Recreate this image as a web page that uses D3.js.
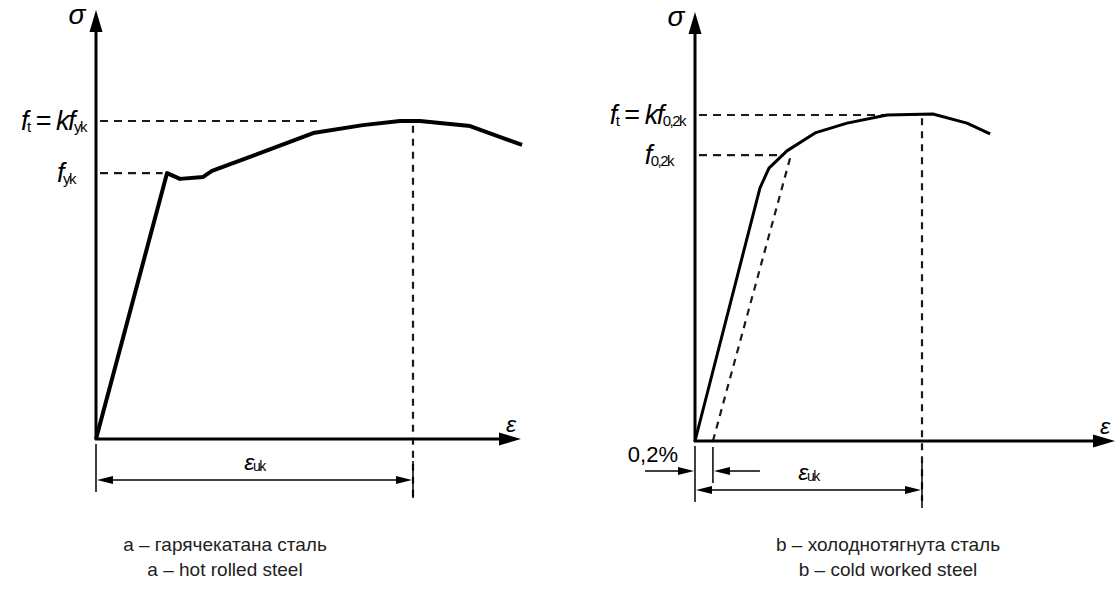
<!DOCTYPE html>
<html>
<head>
<meta charset="utf-8">
<script src="https://cdn.jsdelivr.net/npm/d3@7"></script>
<style>
  body { margin: 0; background: #fff; }
  svg { display: block; }
  text { font-family: "Liberation Sans", Arial, sans-serif; fill: #000; }
  .it { font-style: italic; }
  .caption { font-size: 19px; fill: #222; }
</style>
</head>
<body>
<div id="chart"></div>
<script>
// strain is in units of eps_uk, stress in units of f_t (normalised)

// a - hot rolled steel
var hotStrain = [0, 0.224, 0.265, 0.338, 0.366, 0.517, 0.685, 0.842, 0.959, 1.022, 1.18, 1.344];
var hotStress = [0, 0.836, 0.818, 0.824, 0.843, 0.899, 0.962, 0.987, 1.0, 1.0, 0.984, 0.925];
var hotFyk = 0.836;

// b - cold worked steel
var coldStrain = [0, 0.286, 0.326, 0.405, 0.529, 0.67, 0.846, 1.048, 1.198, 1.3];
var coldStress = [0, 0.776, 0.837, 0.89, 0.945, 0.975, 1.0, 1.003, 0.975, 0.942];
var coldF02 = 0.877;
var offsetStrain = [0.079, 0.419];   // 0,2% offset line
var offsetStress = [0, 0.868];

var captionsA = ["a \u2013 гарячекатана сталь", "a \u2013 hot rolled steel"];
var captionsB = ["b \u2013 холоднотягнута сталь", "b \u2013 cold worked steel"];

var W = 1116, H = 590;

var svg = d3.select("#chart")
    .append("svg")
    .attr("width", W)
    .attr("height", H);

// filled arrow head with tip at (tx,ty), pointing in direction (dx,dy)
function arrowHead(g, tx, ty, dx, dy, len, wid) {
  var bx = tx - dx * len, by = ty - dy * len;
  var px = -dy * wid / 2, py = dx * wid / 2;
  g.append("path")
      .attr("d", "M" + tx + "," + ty + "L" + (bx + px) + "," + (by + py) +
                 "L" + (bx - px) + "," + (by - py) + "Z")
      .attr("fill", "#000").attr("stroke", "none");
}

function panel(o) {
  var x = d3.scaleLinear().domain([0, 1]).range([o.x0, o.xu]);
  var y = d3.scaleLinear().domain([0, 1]).range([o.y0, o.yt]);
  var g = svg.append("g");

  var line = d3.line()
      .x(function(d) { return x(d[0]); })
      .y(function(d) { return y(d[1]); });

  // dashed guides
  var dash = g.append("g").attr("stroke", "#1a1a1a").attr("stroke-width", 2.2)
      .attr("stroke-dasharray", "8,6").attr("fill", "none");
  dash.append("line").attr("x1", x(0) + 4).attr("x2", x(o.ftEnd))
      .attr("y1", y(1)).attr("y2", y(1));
  dash.append("line").attr("x1", x(0) + 4).attr("x2", x(o.fyEnd))
      .attr("y1", y(o.fy)).attr("y2", y(o.fy));
  dash.append("line").attr("x1", x(1)).attr("x2", x(1))
      .attr("y1", y(o.vTop)).attr("y2", o.y0 + 60)
      .attr("stroke-dasharray", "7,6");
  if (o.offset) {
    dash.append("path")
        .attr("d", line(d3.zip(o.offset[0], o.offset[1])))
        .attr("stroke-dasharray", "7,6");
  }

  // axes
  g.append("line").attr("x1", x(0)).attr("x2", x(0))
      .attr("y1", o.y0 + 1).attr("y2", o.axTop + 15)
      .attr("stroke", "#000").attr("stroke-width", 3);
  arrowHead(g, x(0), o.axTop, 0, -1, 22, 13);
  g.append("line").attr("x1", x(0) - 1).attr("x2", o.axRight - 15)
      .attr("y1", o.y0).attr("y2", o.y0)
      .attr("stroke", "#000").attr("stroke-width", 3);
  arrowHead(g, o.axRight, o.y0, 1, 0, 22, 13);

  // curve
  g.append("path")
      .attr("d", line(d3.zip(o.strain, o.stress)))
      .attr("fill", "none").attr("stroke", "#000")
      .attr("stroke-width", o.curveW).attr("stroke-linejoin", "round");

  // axis letters
  g.append("text").attr("class", "it").attr("x", x(0) - 19).attr("y", o.axTop + 14)
      .attr("text-anchor", "middle").style("font-size", "28px").text("\u03c3");
  g.append("text").attr("class", "it").attr("x", o.axRight - 10).attr("y", o.y0 - 7)
      .attr("text-anchor", "middle").style("font-size", "23px").text("\u03b5");

  // stress labels
  var ft = g.append("text").attr("x", x(0) - 10).attr("y", y(1) + 9)
      .attr("text-anchor", "end").style("font-size", "27px").style("letter-spacing", "-1.5px");
  ft.append("tspan").attr("class", "it").text("f");
  ft.append("tspan").attr("dy", 2).style("font-size", "15px").text("t");
  ft.append("tspan").attr("dy", -2).text(" = ");
  ft.append("tspan").attr("class", "it").text("kf");
  ft.append("tspan").attr("dy", 2).style("font-size", "15px").text(o.sub);

  var fy = g.append("text").attr("x", x(0) - o.fyPad).attr("y", y(o.fy) + 9)
      .attr("text-anchor", "end").style("font-size", "27px").style("letter-spacing", "-1.5px");
  fy.append("tspan").attr("class", "it").text("f");
  fy.append("tspan").attr("dy", 2).style("font-size", "15px").text(o.sub);

  // dimension eps_uk
  var dim = g.append("g").attr("stroke", "#000").attr("stroke-width", 1.5);
  dim.append("line").attr("x1", x(0)).attr("x2", x(0))
      .attr("y1", o.y0 + 5).attr("y2", o.dimY + 12);
  dim.append("line").attr("x1", x(1)).attr("x2", x(1))
      .attr("y1", o.y0 + 22).attr("y2", o.dimY + 18);
  dim.append("line").attr("x1", x(0) + 10).attr("x2", x(1) - 10)
      .attr("y1", o.dimY).attr("y2", o.dimY);
  arrowHead(g, x(0) + 1, o.dimY, -1, 0, 16, 8);
  arrowHead(g, x(1) - 1, o.dimY, 1, 0, 16, 8);

  var eu = g.append("text").attr("x", (x(0) + x(1)) / 2).attr("y", o.dimY - 10)
      .attr("text-anchor", "middle").style("font-size", "23px").style("letter-spacing", "-1.5px");
  eu.append("tspan").attr("class", "it").text("\u03b5");
  eu.append("tspan").attr("dy", 1).style("font-size", "14px").text("uk");

  if (o.offset) {
    var xo = x(o.offset[0][0]);
    dim.append("line").attr("x1", xo).attr("x2", xo)
        .attr("y1", o.y0 + 6).attr("y2", o.y0 + 42);
    dim.append("line").attr("x1", x(0) - 50).attr("x2", x(0) - 10)
        .attr("y1", o.y0 + 30).attr("y2", o.y0 + 30);
    arrowHead(g, x(0) - 1, o.y0 + 30, 1, 0, 16, 8);
    dim.append("line").attr("x1", xo + 47).attr("x2", xo + 10)
        .attr("y1", o.y0 + 30).attr("y2", o.y0 + 30);
    arrowHead(g, xo + 1, o.y0 + 30, -1, 0, 16, 8);
    g.append("text").attr("x", x(0) - 17).attr("y", o.y0 + 21)
        .attr("text-anchor", "end").style("font-size", "22px").text("0,2%");
  }

  // captions
  g.selectAll(".caption")
      .data(o.captions)
      .enter().append("text")
      .attr("class", "caption")
      .attr("x", o.capX)
      .attr("y", function(d, i) { return 551 + i * 25; })
      .attr("text-anchor", "middle")
      .text(function(d) { return d; });
}

panel({
  x0: 96, xu: 413, y0: 439, yt: 121,
  axTop: 10, axRight: 521,
  strain: hotStrain, stress: hotStress, curveW: 4,
  fy: hotFyk, ftEnd: 0.697, fyEnd: 0.21, vTop: 0.985,
  sub: "yk", fyPad: 21,
  dimY: 480, capX: 225, captions: captionsA
});

panel({
  x0: 695, xu: 922, y0: 441, yt: 115,
  axTop: 12, axRight: 1115,
  strain: coldStrain, stress: coldStress, curveW: 3,
  fy: coldF02, ftEnd: 0.99, fyEnd: 0.388, vTop: 0.99,
  sub: "0,2k", fyPad: 22,
  offset: [offsetStrain, offsetStress],
  dimY: 490, capX: 888, captions: captionsB
});
</script>
</body>
</html>
